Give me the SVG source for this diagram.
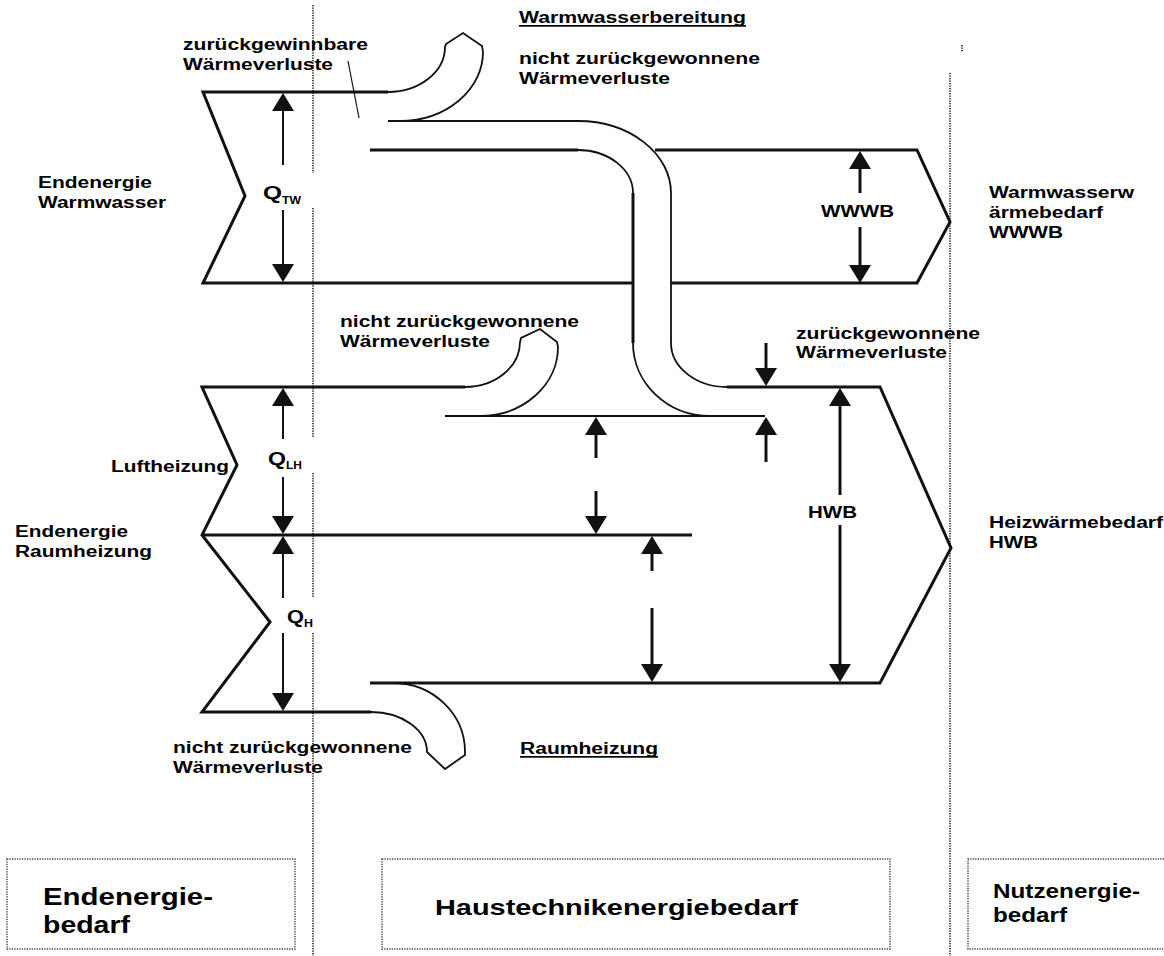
<svg xmlns="http://www.w3.org/2000/svg" width="1164" height="956" viewBox="0 0 1164 956">
<style>
text{font-family:"Liberation Sans",Arial,sans-serif;font-weight:bold;fill:#000;font-size:16px}
.big{font-size:23px}
.mid{font-size:22px}
.nut{font-size:20px}
.dim{font-size:17px}
.q{font-size:18px}
.sub{font-size:11.5px}
.thick{fill:none;stroke:#111;stroke-width:3}
.thin{fill:none;stroke:#111;stroke-width:2}
.curve{fill:none;stroke:#111;stroke-width:1.8}
.dot{fill:none;stroke:#333;stroke-width:1.8;stroke-dasharray:1.3 1.2}
.box{fill:none;stroke:#444;stroke-width:1.5;stroke-dasharray:1.3 1.2}
.arr{fill:none;stroke:#111;stroke-width:3;marker-end:url(#ah)}
.arrt{fill:none;stroke:#111;stroke-width:2;marker-end:url(#ah)}
</style>
<defs>
<marker id="ah" viewBox="0 0 18 22" refX="8" refY="11" markerWidth="18" markerHeight="22" orient="auto" markerUnits="userSpaceOnUse">
<path d="M0,0 L18,11 L0,22 z" fill="#111"/>
</marker>
</defs>
<rect width="1164" height="956" fill="#fff"/>

<g id="separators">
<path class="dot" d="M313,5 V173 M313,208 V438 M313,473 V598 M313,633 V956"/>
<path class="dot" d="M950,73 V956 M962,45 V52"/>
</g>

<g id="warmwasser-band">
<path class="thick" d="M388,92 H203 L245,196 L203,283 H633 M671,283 H917 L950,222 L917,150 H655"/>
<path class="thick" d="M370,150 H578"/>
</g>

<g id="hook-top">
<path class="curve" d="M388,92 A57,45 0 0 0 445,47 L446,44 L463,33 L482,46 L483,52 A83,69 0 0 1 400,121"/>
<line x1="348" y1="61" x2="359" y2="118" stroke="#111" stroke-width="1.2"/>
</g>

<g id="pipe">
<path class="curve" d="M388,121 H578 A93,72 0 0 1 671,193 V343 A56,44 0 0 0 727,387"/>
<path class="curve" d="M578,150 A55,43 0 0 1 633,193"/>
<path class="thick" d="M633,193 V343"/>
<path class="curve" d="M633,343 A77,73 0 0 0 710,416"/>
</g>

<g id="heizung-band">
<path class="thick" d="M465,387 H202 L237,465 L202,535 L270,622 L202,712 H371"/>
<path class="thick" d="M202,535 H692"/>
<path class="thick" d="M370,683 H880 L951,548 L880,387 H727"/>
<path class="thin" d="M445,416 H765"/>
</g>

<g id="hook-mid">
<path class="curve" d="M465,387 A55,45 0 0 0 520,342 L521,338 L540,329 L557,342 L558,347 A78,69 0 0 1 480,416"/>
</g>

<g id="hook-bottom">
<path class="curve" d="M371,712 A56,40 0 0 1 427,752 L445,769 L465,755 L465,752 A72,69 0 0 0 393,683"/>
</g>

<g id="connectors">
<line class="arrt" x1="283" y1="165" x2="283" y2="103"/>
<line class="arrt" x1="283" y1="210" x2="283" y2="272"/>
<line class="arr" x1="860" y1="193" x2="860" y2="161"/>
<line class="arr" x1="860" y1="227" x2="860" y2="273"/>
<line class="arrt" x1="283" y1="439" x2="283" y2="398"/>
<line class="arrt" x1="283" y1="477" x2="283" y2="524"/>
<line class="arrt" x1="283" y1="598" x2="283" y2="546"/>
<line class="arrt" x1="283" y1="633" x2="283" y2="701"/>
<line class="arr" x1="596" y1="458" x2="596" y2="427"/>
<line class="arr" x1="596" y1="491" x2="596" y2="524"/>
<line class="arr" x1="652" y1="571" x2="652" y2="546"/>
<line class="arr" x1="652" y1="608" x2="652" y2="672"/>
<line class="arr" x1="766" y1="343" x2="766" y2="376"/>
<line class="arr" x1="766" y1="462" x2="766" y2="427"/>
<line class="arr" x1="840" y1="495" x2="840" y2="398"/>
<line class="arr" x1="840" y1="525" x2="840" y2="672"/>
</g>

<g id="labels-top">
<text x="183" y="50" textLength="185" lengthAdjust="spacingAndGlyphs">zurückgewinnbare</text>
<text x="183" y="70" textLength="150" lengthAdjust="spacingAndGlyphs">Wärmeverluste</text>
<text x="519" y="23" textLength="227" lengthAdjust="spacingAndGlyphs">Warmwasserbereitung</text>
<rect x="519" y="25" width="227" height="1.7" fill="#000"/>
<text x="519" y="64" textLength="241" lengthAdjust="spacingAndGlyphs">nicht zurückgewonnene</text>
<text x="519" y="84" textLength="151" lengthAdjust="spacingAndGlyphs">Wärmeverluste</text>
<text x="38" y="188" textLength="114" lengthAdjust="spacingAndGlyphs">Endenergie</text>
<text x="38" y="208" textLength="128" lengthAdjust="spacingAndGlyphs">Warmwasser</text>
<text class="q" x="263" y="199" textLength="19" lengthAdjust="spacingAndGlyphs">Q</text>
<text class="sub" x="282" y="204" textLength="19" lengthAdjust="spacingAndGlyphs">TW</text>
<text class="dim" x="821" y="217" textLength="73" lengthAdjust="spacingAndGlyphs">WWWB</text>
<text x="989" y="198" textLength="145" lengthAdjust="spacingAndGlyphs">Warmwasserw</text>
<text x="989" y="218" textLength="114" lengthAdjust="spacingAndGlyphs">ärmebedarf</text>
<text x="989" y="238" textLength="74" lengthAdjust="spacingAndGlyphs">WWWB</text>
</g>

<g id="labels-heizung">
<text x="340" y="327" textLength="239" lengthAdjust="spacingAndGlyphs">nicht zurückgewonnene</text>
<text x="340" y="347" textLength="150" lengthAdjust="spacingAndGlyphs">Wärmeverluste</text>
<text x="796" y="339" textLength="184" lengthAdjust="spacingAndGlyphs">zurückgewonnene</text>
<text x="796" y="358" textLength="151" lengthAdjust="spacingAndGlyphs">Wärmeverluste</text>
<text x="111" y="472" textLength="118" lengthAdjust="spacingAndGlyphs">Luftheizung</text>
<text class="q" x="268" y="465" textLength="18" lengthAdjust="spacingAndGlyphs">Q</text>
<text class="sub" x="286" y="469" textLength="16" lengthAdjust="spacingAndGlyphs">LH</text>
<text x="15" y="537" textLength="113" lengthAdjust="spacingAndGlyphs">Endenergie</text>
<text x="15" y="557" textLength="137" lengthAdjust="spacingAndGlyphs">Raumheizung</text>
<text class="q" x="287" y="623" textLength="17" lengthAdjust="spacingAndGlyphs">Q</text>
<text class="sub" x="304" y="627" textLength="9" lengthAdjust="spacingAndGlyphs">H</text>
<text class="dim" x="808" y="518" textLength="49" lengthAdjust="spacingAndGlyphs">HWB</text>
<text x="989" y="528" textLength="174" lengthAdjust="spacingAndGlyphs">Heizwärmebedarf</text>
<text x="989" y="548" textLength="49" lengthAdjust="spacingAndGlyphs">HWB</text>
<text x="173" y="753" textLength="239" lengthAdjust="spacingAndGlyphs">nicht zurückgewonnene</text>
<text x="173" y="773" textLength="150" lengthAdjust="spacingAndGlyphs">Wärmeverluste</text>
<text x="520" y="754" textLength="138" lengthAdjust="spacingAndGlyphs">Raumheizung</text>
<rect x="520" y="756" width="138" height="1.7" fill="#000"/>
</g>

<g id="box-endenergie">
<rect class="box" x="7" y="859" width="288" height="90"/>
<text class="big" x="43" y="905" textLength="170" lengthAdjust="spacingAndGlyphs">Endenergie-</text>
<text class="big" x="43" y="933" textLength="87" lengthAdjust="spacingAndGlyphs">bedarf</text>
</g>
<g id="box-haustechnik">
<rect class="box" x="382" y="859" width="508" height="90"/>
<text class="mid" x="435" y="915" textLength="363" lengthAdjust="spacingAndGlyphs">Haustechnikenergiebedarf</text>
</g>
<g id="box-nutzenergie">
<path class="box" d="M1164,859 H968 V949 H1164"/>
<text class="nut" x="993" y="898" textLength="147" lengthAdjust="spacingAndGlyphs">Nutzenergie-</text>
<text class="nut" x="993" y="922" textLength="74" lengthAdjust="spacingAndGlyphs">bedarf</text>
</g>
</svg>
